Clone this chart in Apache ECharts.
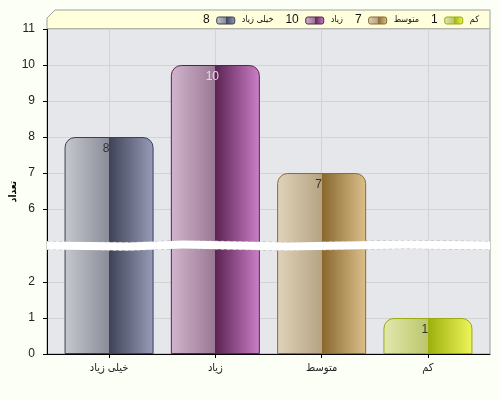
<!DOCTYPE html>
<html>
<head>
<meta charset="utf-8">
<script src="https://cdn.jsdelivr.net/npm/echarts@6/dist/echarts.min.js"></script>
<style>
  html, body { margin: 0; padding: 0; background: #fbfff5; }
  #chart { width: 500px; height: 400px; }
</style>
</head>
<body>
<div id="chart"></div>
<script>
const categories = ['خیلی زیاد', 'زیاد', 'متوسط', 'کم'];
const counts = [8, 10, 7, 1];
const xTicks = [0, 1, 2, 3];
const yTicks = [0, 1, 2, 6, 7, 8, 9, 10, 11];
const breakStart = 2.9;
const breakEnd = 5.1;
const yName = 'تعداد';

// left edge, left middle, right middle, right edge, border
const palettes = [
  ['#c6c8cf', '#8a8d98', '#3d4356', '#989cb9', '#3a3f55'],
  ['#d2b5cd', '#9a7893', '#5b2352', '#cc80c9', '#5a2050'],
  ['#e0d3bb', '#b6a382', '#87672d', '#dcc08c', '#8a6a30'],
  ['#e2e8ae', '#bcc66b', '#9caf0c', '#eef65c', '#9aaa10']
];
const labelColors = ['#333', '#e6d6e4', '#333', '#333'];
const font = '"Liberation Sans", "DejaVu Sans Condensed", "DejaVu Sans", sans-serif';

function barFill(p) {
  return new echarts.graphic.LinearGradient(0, 0, 1, 0, [
    { offset: 0, color: p[0] },
    { offset: 0.5, color: p[1] },
    { offset: 0.5, color: p[2] },
    { offset: 1, color: p[3] }
  ]);
}

const measureCtx = document.createElement('canvas').getContext('2d');
function textWidth(s, size) {
  measureCtx.font = size + 'px ' + font;
  return measureCtx.measureText(String(s)).width;
}

// legend drawn right to left: name, swatch, value
function legendGraphics() {
  const items = [];
  let x = 479;
  for (let i = categories.length - 1; i >= 0; i--) {
    items.push({
      type: 'text', x: x, y: 20,
      style: { text: categories[i], font: '9px ' + font, fill: '#111', align: 'right', verticalAlign: 'middle' }
    });
    x -= textWidth(categories[i], 9) + 7;
    items.push({
      type: 'rect', shape: { x: x - 18, y: 17, width: 18, height: 7, r: 2 },
      style: { fill: barFill(palettes[i]), stroke: palettes[i][4], lineWidth: 1 }
    });
    x -= 18 + 7;
    items.push({
      type: 'text', x: x, y: 20,
      style: { text: String(counts[i]), font: '12px ' + font, fill: '#111', align: 'right', verticalAlign: 'middle' }
    });
    x -= textWidth(counts[i], 12) + 12;
  }
  return items;
}

const chart = echarts.init(document.getElementById('chart'), null, { renderer: 'canvas' });

chart.setOption({
  backgroundColor: '#fbfff5',
  animation: false,
  grid: {
    left: 47, right: 10, top: 29, bottom: 46,
    outerBoundsMode: 'none',
    show: true, backgroundColor: '#e6e7eb', borderColor: '#9a9a9a', borderWidth: 1
  },
  graphic: [
    {
      type: 'polygon', z: -1,
      shape: { points: [[47, 29], [47, 18], [55, 10], [490, 10], [490, 29]] },
      style: { fill: '#ffffdc', stroke: '#a0a0a0', lineWidth: 1 }
    },
    { type: 'group', children: legendGraphics() }
  ],
  xAxis: {
    type: 'value',
    min: -0.584,
    max: 3.584,
    axisLine: { show: true, onZero: false, lineStyle: { color: '#000' } },
    axisTick: { show: true, customValues: xTicks, length: 4, lineStyle: { color: '#000' } },
    axisLabel: {
      customValues: xTicks, margin: 8, color: '#222', fontSize: 11, fontFamily: font,
      formatter: v => categories[v]
    },
    splitLine: { show: true, lineStyle: { color: '#d3d3d3' } }
  },
  yAxis: {
    type: 'value',
    min: 0,
    max: 11,
    name: yName,
    nameLocation: 'middle',
    nameGap: 29,
    nameMoveOverlap: false,
    nameTextStyle: { fontWeight: 'bold', fontSize: 10, color: '#000', fontFamily: font },
    breaks: [{ start: breakStart, end: breakEnd, gap: '2.5%' }],
    breakArea: {
      show: true,
      itemStyle: { color: '#fff', borderColor: '#b0b0b0', borderWidth: 1, opacity: 1 },
      zigzagAmplitude: 1,
      zigzagMinSpan: 40,
      zigzagMaxSpan: 120,
      zigzagZ: 100,
      expandOnClick: false
    },
    axisLine: { show: true, onZero: false, lineStyle: { color: '#000' } },
    axisTick: { show: true, customValues: yTicks, length: 4, lineStyle: { color: '#000' } },
    axisLabel: { customValues: yTicks, margin: 12, color: '#222', fontSize: 12, fontFamily: font },
    splitLine: { show: true, lineStyle: { color: '#d3d3d3' } }
  },
  series: categories.map((name, i) => ({
    name: name,
    type: 'bar',
    stack: 'all',
    barWidth: 89,
    data: [[i, counts[i]]],
    itemStyle: {
      color: barFill(palettes[i]),
      borderColor: palettes[i][4],
      borderWidth: 1,
      borderRadius: [10, 10, 0, 0]
    },
    label: {
      show: true,
      position: 'insideTop',
      distance: 6,
      offset: [-3, 0],
      color: labelColors[i],
      fontSize: 12,
      fontFamily: font,
      formatter: p => p.value[1]
    }
  }))
});
</script>
</body>
</html>
